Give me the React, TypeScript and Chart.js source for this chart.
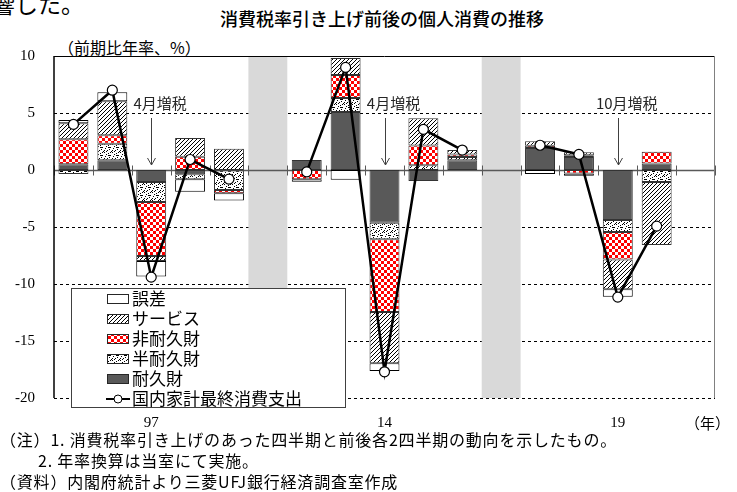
import React, { useEffect, useRef } from 'react';
import { Chart, registerables } from 'chart.js';
Chart.register(...registerables);

const categories = ['96Q4', '97Q1', '97Q2', '97Q3', '97Q4', 'gap1', '13Q4', '14Q1', '14Q2', '14Q3', '14Q4', 'gap2', '19Q2', '19Q3', '19Q4', '20Q1', 'end'];
const xTickLabels = ['', '', '97', '', '', '', '', '', '14', '', '', '', '', '', '19', '', ''];
const durable = [0.5, 0.85, -1.05, -0.38, -0.05, null, 0.88, 5.09, -4.62, -0.96, 0.85, null, 1.93, 1.15, -4.39, 0.56, null];
const semiDurable = [-0.35, 1.46, -1.75, -0.44, -1.7, null, null, 1.23, -1.46, 0.41, 0.29, null, null, 0.15, -1.05, -1.05, null];
const nonDurable = [2.19, 0.73, -4.74, 1.17, -0.29, null, -0.82, 2.02, -6.38, 1.75, 0.23, null, 0.2, -0.3, -2.4, 1.05, null];
const services = [1.4, 3.0, -0.44, 1.64, 1.87, null, null, 1.49, -4.5, 2.37, 0.38, null, 0.4, 0.25, -2.63, -5.53, null];
const residual = [0.3, 0.79, -1.37, -1.08, -0.64, null, -0.2, -0.85, -0.67, null, null, null, -0.35, -0.2, -0.64, null, null];
const totalConsumption = [4.0, 7.0, -9.4, 0.92, -0.8, null, -0.17, 9.0, -17.7, 3.57, 1.75, null, 2.17, 1.37, -11.15, -4.92, null];
const yGridValues = [5, -5, -10, -15, -20];
const gapIndices = [5, 11];
const annotationIndices = [2, 8, 14];
const annotationTexts = ['4月増税', '4月増税', '10月増税'];
const legendLabels = ['誤差', 'サービス', '非耐久財', '半耐久財', '耐久財', '国内家計最終消費支出'];

const JP = '"Noto Sans CJK JP", sans-serif';
const SERIF = '"Liberation Serif", "DejaVu Serif", serif';

function makeTile(w: number, h: number, draw: (c: CanvasRenderingContext2D) => void) {
  const cv = document.createElement('canvas');
  cv.width = w;
  cv.height = h;
  const c = cv.getContext('2d')!;
  c.fillStyle = '#ffffff';
  c.fillRect(0, 0, w, h);
  draw(c);
  return cv;
}

function makePatterns(ctx: CanvasRenderingContext2D) {
  const check = makeTile(6, 6, (c) => {
    c.fillStyle = '#ff0000';
    c.fillRect(0, 0, 3, 3);
    c.fillRect(3, 3, 3, 3);
  });
  const dots = makeTile(8, 8, (c) => {
    c.fillStyle = '#000000';
    const pts = [[0, 0], [4, 1], [2, 2], [6, 3], [1, 4], [5, 5], [3, 6], [7, 7], [6, 0], [0, 6], [2, 7]];
    pts.forEach(([px, py]) => c.fillRect(px, py, 1, 1));
    c.fillRect(4, 3, 2, 1);
  });
  const hatch = makeTile(4, 4, (c) => {
    c.fillStyle = '#000000';
    c.fillRect(3, 0, 1, 1);
    c.fillRect(2, 1, 1, 1);
    c.fillRect(1, 2, 1, 1);
    c.fillRect(0, 3, 1, 1);
  });
  return {
    check: ctx.createPattern(check, 'repeat')!,
    dots: ctx.createPattern(dots, 'repeat')!,
    hatch: ctx.createPattern(hatch, 'repeat')!,
  };
}

export default function App() {
  const ref = useRef<HTMLCanvasElement>(null);

  useEffect(() => {
    const canvas = ref.current!;
    const ctx = canvas.getContext('2d')!;
    const pat = makePatterns(ctx);
    const legendFills: (string | CanvasPattern)[] = ['#ffffff', pat.hatch, pat.check, pat.dots, '#595959'];

    const decor = {
      id: 'decor',
      beforeDatasetsDraw(chart: any) {
        const c = chart.ctx as CanvasRenderingContext2D;
        const a = chart.chartArea;
        const xs = chart.scales.x;
        const ys = chart.scales.y;
        const slot = xs.getPixelForValue(1) - xs.getPixelForValue(0);
        c.save();
        c.strokeStyle = '#000000';
        c.lineWidth = 1;
        c.setLineDash([3, 3]);
        yGridValues.forEach((v) => {
          const yy = Math.round(ys.getPixelForValue(v)) + 0.5;
          c.beginPath();
          c.moveTo(a.left, yy);
          c.lineTo(a.right, yy);
          c.stroke();
        });
        c.setLineDash([]);
        c.fillStyle = '#d9d9d9';
        gapIndices.forEach((i) => {
          const cx = xs.getPixelForValue(i);
          c.fillRect(cx - slot / 2, a.top, slot, a.bottom - a.top);
        });
        const y0 = Math.round(ys.getPixelForValue(0)) + 0.5;
        c.strokeStyle = '#595959';
        c.lineWidth = 1.5;
        c.beginPath();
        c.moveTo(a.left, y0);
        c.lineTo(a.right, y0);
        c.stroke();
        c.lineWidth = 1;
        for (let i = 0; i <= categories.length; i++) {
          const bx = Math.round(xs.getPixelForValue(0) - slot / 2 + i * slot) + 0.5;
          c.beginPath();
          c.moveTo(bx, y0 - 5);
          c.lineTo(bx, y0 + 5);
          c.stroke();
        }
        c.strokeStyle = '#000000';
        c.lineWidth = 1;
        c.beginPath();
        c.moveTo(a.left, Math.round(a.top) + 0.5);
        c.lineTo(a.right, Math.round(a.top) + 0.5);
        c.stroke();
        c.strokeStyle = '#808080';
        c.beginPath();
        c.moveTo(Math.round(a.right) - 0.5, a.top);
        c.lineTo(Math.round(a.right) - 0.5, a.bottom);
        c.stroke();
        c.strokeStyle = '#000000';
        c.lineWidth = 1.5;
        c.beginPath();
        c.moveTo(a.left, a.top);
        c.lineTo(a.left, a.bottom);
        c.stroke();
        c.restore();
      },
      afterDatasetsDraw(chart: any) {
        const c = chart.ctx as CanvasRenderingContext2D;
        const xs = chart.scales.x;
        c.save();
        annotationIndices.forEach((idx, k) => {
          const cx = xs.getPixelForValue(idx);
          c.fillStyle = '#262626';
          c.font = `15px ${JP}`;
          c.textAlign = 'center';
          c.textBaseline = 'middle';
          c.fillText(annotationTexts[k], cx + 9, 103);
          c.strokeStyle = '#404040';
          c.lineWidth = 1;
          const ax = Math.round(cx) + 0.5;
          c.beginPath();
          c.moveTo(ax, 118);
          c.lineTo(ax, 165);
          c.moveTo(ax - 4, 158);
          c.lineTo(ax, 165);
          c.lineTo(ax + 4, 158);
          c.stroke();
        });
        c.fillStyle = '#ffffff';
        c.fillRect(71, 288, 274, 119);
        c.strokeStyle = '#404040';
        c.lineWidth = 1;
        c.strokeRect(71.5, 288.5, 274, 119);
        legendLabels.forEach((lab, k) => {
          const cy = 299 + k * 20;
          if (k < 5) {
            c.fillStyle = legendFills[k];
            c.fillRect(107, cy - 5, 22, 10);
            c.strokeStyle = '#262626';
            c.strokeRect(107.5, cy - 4.5, 21, 9);
          } else {
            c.strokeStyle = '#000000';
            c.lineWidth = 2;
            c.beginPath();
            c.moveTo(106, cy);
            c.lineTo(130, cy);
            c.stroke();
            c.lineWidth = 1;
            c.fillStyle = '#ffffff';
            c.beginPath();
            c.arc(118, cy, 4, 0, Math.PI * 2);
            c.fill();
            c.stroke();
          }
          c.fillStyle = '#000000';
          c.font = `17px ${JP}`;
          c.textAlign = 'left';
          c.textBaseline = 'middle';
          c.fillText(lab, 132, cy);
        });
        c.restore();
      },
    };

    const barCommon = {
      type: 'bar' as const,
      stack: 'comp',
      borderColor: '#333333',
      borderWidth: 1,
      borderSkipped: false,
      barPercentage: 0.77,
      categoryPercentage: 1,
      order: 1,
    };

    const chart = new Chart(ctx, {
      type: 'bar',
      data: {
        labels: categories,
        datasets: [
          { ...barCommon, label: '耐久財', data: durable, backgroundColor: '#595959' },
          { ...barCommon, label: '半耐久財', data: semiDurable, backgroundColor: pat.dots },
          { ...barCommon, label: '非耐久財', data: nonDurable, backgroundColor: pat.check },
          { ...barCommon, label: 'サービス', data: services, backgroundColor: pat.hatch },
          { ...barCommon, label: '誤差', data: residual, backgroundColor: '#ffffff', borderColor: '#000000' },
          {
            type: 'line' as const,
            label: '国内家計最終消費支出',
            data: totalConsumption,
            stack: 'line',
            borderColor: '#000000',
            borderWidth: 2.5,
            pointRadius: 5,
            pointBackgroundColor: '#ffffff',
            pointBorderColor: '#000000',
            pointBorderWidth: 1.2,
            spanGaps: false,
            tension: 0,
            order: 0,
          } as any,
        ],
      },
      options: {
        responsive: false,
        animation: false,
        devicePixelRatio: 1,
        layout: { padding: { left: 8, right: 22, top: 56, bottom: 0 } },
        plugins: { legend: { display: false }, tooltip: { enabled: false } },
        scales: {
          x: {
            type: 'category',
            stacked: true,
            offset: true,
            grid: { display: false, drawTicks: false },
            border: { display: false },
            ticks: {
              autoSkip: false,
              maxRotation: 0,
              padding: 16,
              color: '#000000',
              font: { family: SERIF, size: 15 },
              callback: (_v: any, i: number) => xTickLabels[i],
            },
            afterFit: (s: any) => { s.height = 94; },
          },
          y: {
            stacked: true,
            min: -20,
            max: 10,
            grid: { display: false, drawTicks: false },
            border: { display: false },
            ticks: {
              stepSize: 5,
              padding: 19,
              color: '#000000',
              font: { family: SERIF, size: 15 },
            },
            afterFit: (s: any) => { s.width = 46; },
          },
        },
      },
      plugins: [decor],
    } as any);
    return () => chart.destroy();
  }, []);

  return (
    <div style={{ position: 'absolute', left: 0, top: 0, width: 737, height: 492, overflow: 'hidden', background: '#ffffff' }}>
      <div style={{ position: 'absolute', left: -8, top: -14, fontFamily: JP, fontSize: 23, color: '#000', whiteSpace: 'nowrap' }}>響した。</div>
      <div style={{ position: 'absolute', left: 0, width: 764, top: 5, textAlign: 'center', fontFamily: JP, fontSize: 18, fontWeight: 500, color: '#000', whiteSpace: 'nowrap' }}>消費税率引き上げ前後の個人消費の推移</div>
      <div style={{ position: 'absolute', left: 58, top: 35, fontFamily: JP, fontSize: 16, color: '#000', whiteSpace: 'nowrap' }}>（前期比年率、%）</div>
      <canvas ref={ref} width={737} height={492} style={{ position: 'absolute', left: 0, top: 0, width: 737, height: 492 }} />
      <div style={{ position: 'absolute', left: 685, top: 412, fontFamily: JP, fontSize: 15, color: '#000', whiteSpace: 'nowrap' }}>（年）</div>
      <div style={{ position: 'absolute', left: 0, top: 429, fontFamily: JP, fontSize: 16, letterSpacing: 0.8, lineHeight: '21px', color: '#000', whiteSpace: 'nowrap' }}>
        <div>（注）1. 消費税率引き上げのあった四半期と前後各2四半期の動向を示したもの。</div>
        <div style={{ paddingLeft: 38 }}>2. 年率換算は当室にて実施。</div>
        <div>（資料）内閣府統計より三菱UFJ銀行経済調査室作成</div>
      </div>
    </div>
  );
}
